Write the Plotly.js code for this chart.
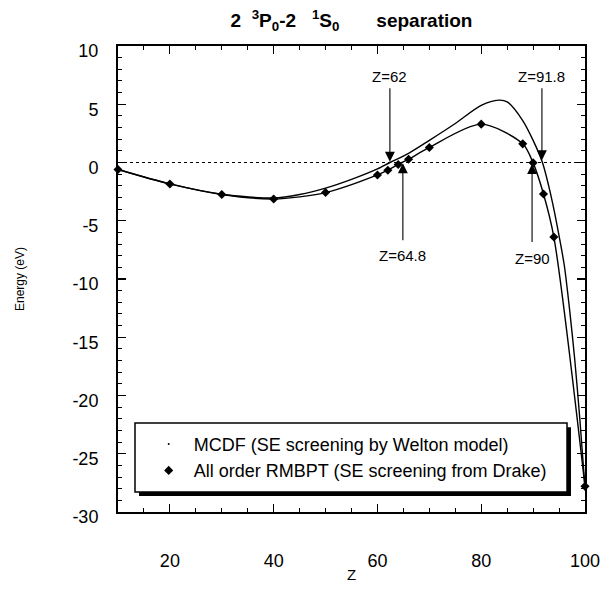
<!DOCTYPE html>
<html>
<head>
<meta charset="utf-8">
<script src="https://cdn.plot.ly/plotly-3.0.1.min.js"></script>
<style>html,body{margin:0;padding:0;background:#fff;}#chart{width:614px;height:593px;}</style>
</head>
<body>
<div id="chart"></div>
<script>
// RMBPT (diamonds)
const zRmbpt = [10, 20, 30, 40, 50, 60, 62, 64, 66, 70, 80, 88, 90, 92, 94, 100];
const eRmbpt = [-0.6, -1.84, -2.75, -3.13, -2.58, -1.07, -0.66, -0.17, 0.28, 1.29, 3.29, 1.6, -0.03, -2.7, -6.4, -27.8];
// MCDF (line)
const zMcdf = [10, 20, 30, 40, 45, 50, 55, 60, 62.4, 66, 70, 75, 80, 83.4, 85, 88, 90, 91.8, 93, 94, 95, 96, 97, 98, 99, 100];
const eMcdf = [-0.6, -1.84, -2.72, -3.05, -2.75, -2.2, -1.45, -0.55, 0, 0.79, 1.9, 3.35, 4.9, 5.35, 5.2, 3.6, 1.9, 0, -2.0, -4.0, -6.3, -8.8, -12.5, -16.8, -22.0, -27.9];

const xTicks = [20, 40, 60, 80, 100];
const yTicks = [-30, -25, -20, -15, -10, -5, 0, 5, 10];
const yTickText = ['-30', '-25', '-20', '-15', '-10', '-5', '0', '5', '10'];

const legendNames = ['MCDF (SE screening by Welton model)', 'All order RMBPT (SE screening from Drake)'];

// arrows: Z position, tip y, tail y, label y
const arrowZ = [62.4, 64.9, 89.8, 91.7];
const arrowTipY = [0.07, -0.07, -0.13, 0.2];
const arrowTailY = [6.5, -6.8, -6.95, 6.5];
const arrowLabelY = [7.35, -8.0, -8.2, 7.35];
const arrowLabels = ['Z=62', 'Z=64.8', 'Z=90', 'Z=91.8'];

const FONT = 'Arial, "Liberation Sans", Helvetica, sans-serif';

const traces = [
  {x: zMcdf, y: eMcdf, type: 'scatter', mode: 'lines', line: {color: '#000', width: 1.4, shape: 'spline', smoothing: 0.8}, showlegend: false, hoverinfo: 'skip'},
  {x: zRmbpt, y: eRmbpt, type: 'scatter', mode: 'lines+markers', line: {color: '#000', width: 1.4, shape: 'spline', smoothing: 0.8},
   marker: {symbol: 'diamond', size: 7, color: '#000'}, showlegend: false, hoverinfo: 'skip', cliponaxis: false},
  {x: [null], y: [null], type: 'scatter', mode: 'markers', name: legendNames[0], marker: {symbol: 'circle', size: 2, color: '#000'}},
  {x: [null], y: [null], type: 'scatter', mode: 'markers', name: legendNames[1], marker: {symbol: 'diamond', size: 7, color: '#000'}}
];

const annotations = [];
for (let i = 0; i < arrowZ.length; i++) {
  annotations.push({x: arrowZ[i], y: arrowTipY[i], ax: arrowZ[i], ay: arrowTailY[i], xref: 'x', yref: 'y', axref: 'x', ayref: 'y',
    text: '', showarrow: true, arrowhead: 2, arrowsize: 1.8, arrowwidth: 1.1, arrowcolor: '#000'});
  annotations.push({x: arrowZ[i], y: arrowLabelY[i], xref: 'x', yref: 'y', text: arrowLabels[i], showarrow: false,
    font: {family: FONT, size: 15, color: '#000'}, xanchor: 'center', yanchor: 'middle'});
}

const layout = {
  width: 614, height: 593,
  margin: {l: 118, r: 29, t: 46, b: 81},
  paper_bgcolor: '#fff', plot_bgcolor: '#fff',
  font: {family: FONT, color: '#000'},
  title: {text: '<b>2&nbsp;&nbsp;<sup>3</sup>P<sub>0</sub>-2&nbsp;&nbsp;&nbsp;<sup>1</sup>S<sub>0</sub>&nbsp;&nbsp;&nbsp;&nbsp;&nbsp;&nbsp;&nbsp;separation</b>', font: {family: FONT, size: 19, color: '#000'},
          x: 0.5, xref: 'paper', xanchor: 'center', y: 0.965, yref: 'container', yanchor: 'middle'},
  showlegend: true,
  legend: {x: 0.055, y: 0.185, xanchor: 'left', yanchor: 'top', bgcolor: 'rgba(0,0,0,0)', borderwidth: 0,
           font: {family: FONT, size: 18, color: '#000'}, itemwidth: 40},
  xaxis: {range: [10, 100], tickvals: xTicks, ticks: 'inside', ticklen: 8, tickwidth: 1.2, tickcolor: '#000',
          minor: {dtick: 5, ticks: 'inside', ticklen: 4, tickwidth: 1, tickcolor: '#000', showgrid: false},
          showline: true, linewidth: 2, linecolor: '#000', mirror: 'allticks', showgrid: false, zeroline: false,
          tickfont: {family: FONT, size: 18, color: '#000'}, ticklabelstandoff: 31,
          title: {text: 'Z', font: {family: FONT, size: 15, color: '#000'}, standoff: 0}},
  yaxis: {range: [-30, 10], tickvals: yTicks, ticktext: yTickText, ticks: 'inside', ticklen: 8, tickwidth: 1.2, tickcolor: '#000',
          minor: {dtick: 1, ticks: 'inside', ticklen: 4, tickwidth: 1, tickcolor: '#000', showgrid: false},
          showline: true, linewidth: 2, linecolor: '#000', mirror: 'allticks', showgrid: false, zeroline: false,
          tickfont: {family: FONT, size: 18, color: '#000'}, ticklabelstandoff: 14, ticklabelshift: 5,
          title: {text: 'Energy (eV)', font: {family: FONT, size: 12, color: '#000'}, standoff: 45}},
  shapes: [
    {type: 'line', xref: 'paper', yref: 'y', x0: 0, x1: 1, y0: 0, y1: 0, line: {color: '#000', width: 1.2, dash: 'dot'}, layer: 'below'},
    {type: 'rect', xref: 'paper', yref: 'paper', x0: 0.045, x1: 0.970, y0: 0.0343, y1: 0.182, fillcolor: '#000', line: {width: 0}, layer: 'above'},
    {type: 'rect', xref: 'paper', yref: 'paper', x0: 0.0364, x1: 0.9615, y0: 0.0429, y1: 0.191, fillcolor: '#fff', line: {color: '#000', width: 1.5}, layer: 'above'}
  ],
  annotations: annotations
};

Plotly.newPlot('chart', traces, layout, {displayModeBar: false, staticPlot: true});
</script>
</body>
</html>
